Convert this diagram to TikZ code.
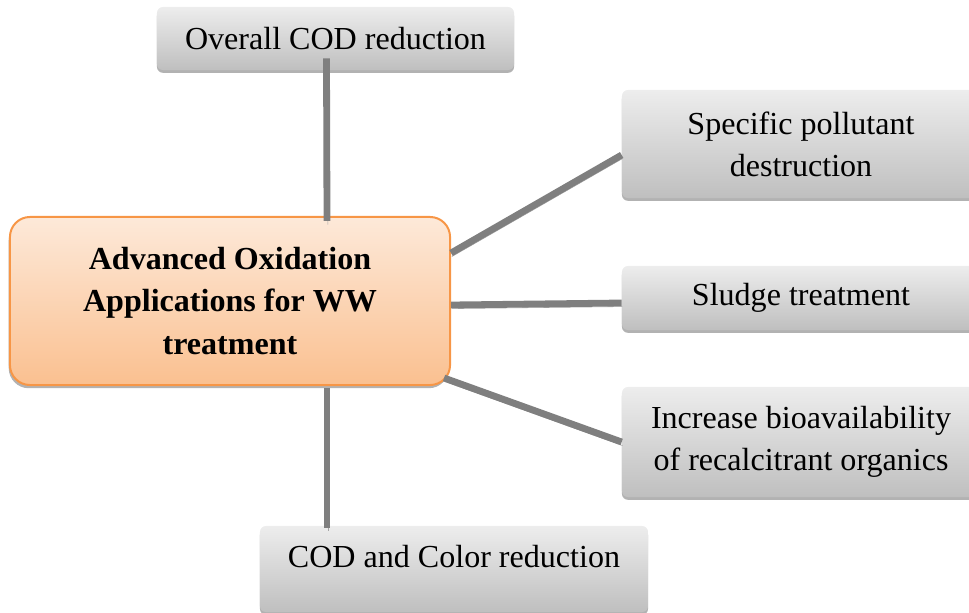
\documentclass[tikz,border=0pt]{standalone}
\usepackage{fontspec}
\setmainfont{Liberation Serif}
\usetikzlibrary{calc,shadows}

\definecolor{boxtop}{HTML}{EDEDED}
\definecolor{boxbottom}{HTML}{BFBFBF}
\definecolor{aoptop}{HTML}{FDE9D9}
\definecolor{aopbottom}{HTML}{FAC090}
\definecolor{aopline}{HTML}{F79646}
\definecolor{linkgray}{HTML}{7F7F7F}
\definecolor{shadegray}{HTML}{A6A6A6}

\begin{document}
\begin{tikzpicture}[x=0.025cm, y=-0.025cm,
    every node/.style={font=\fontsize{22.8}{30}\selectfont, align=center, inner sep=0pt},
    leaf/.style={rounded corners=0.15cm, top color=boxtop, bottom color=boxbottom,
        minimum width=8.95cm,
        drop shadow={shadow xshift=0cm, shadow yshift=-0.07cm, fill=black, opacity=0.3}},
    hub/.style={rounded corners=0.5cm, top color=aoptop, bottom color=aopbottom,
        draw=aopline, line width=0.05cm, minimum width=11cm, minimum height=4.2cm,
        font=\fontsize{22.8}{30}\selectfont\bfseries,
        drop shadow={shadow xshift=-0.03cm, shadow yshift=-0.08cm, fill=black, opacity=0.3}},
    link/.style={line width=0.17cm, draw=linkgray,
        preaction={draw=shadegray, transform canvas={xshift=0.02cm, yshift=-0.09cm}}}]
    \useasboundingbox (0,0) rectangle (969,613);

    % Central box
    \node[hub] (aop) at (230,301) {Advanced Oxidation\\Applications for WW\\treatment};

    % Application boxes
    \node[leaf, minimum width=8.925cm, minimum height=1.575cm] (overall) at (335.5,38.5) {Overall COD reduction};
    \node[leaf, minimum height=2.7cm] (specific) at (801,144) {Specific pollutant\\destruction};
    \node[leaf, minimum height=1.6cm] (sludge) at (801,298) {Sludge treatment};
    \node[leaf, minimum height=2.75cm] (bio) at (801,442) {Increase bioavailability\\of recalcitrant organics};
    \node[leaf, minimum width=9.7cm, minimum height=2.15cm, text height=0.55cm, text depth=0.65cm] (color) at (454,569) {COD and Color reduction};

    % Connectors
    \draw[link] ($(overall.south)+(-9,-12)$) -- ($(aop.north)+(97,5)$);
    \draw[link] ($(aop.east)+(0,-48)$) -- ($(specific.west)+(0,11)$);
    \draw[link] ($(aop.east)+(0,4)$) -- ($(sludge.west)+(0,5)$);
    \draw[link] ($(aop.east)+(-7,77)$) -- ($(bio.west)+(0,0)$);
    \draw[link] ($(aop.south)+(97,2)$) -- ($(color.north)+(-127,2)$);
\end{tikzpicture}
\end{document}
